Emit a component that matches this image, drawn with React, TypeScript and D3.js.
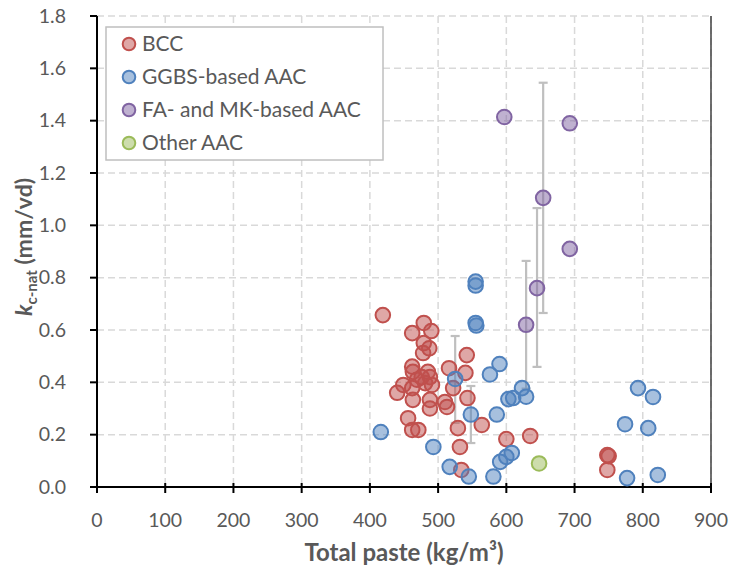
import React from "react";
import * as d3 from "d3";

const xTicks = [0, 100, 200, 300, 400, 500, 600, 700, 800, 900];
const yTicks = [0, 0.2, 0.4, 0.6, 0.8, 1.0, 1.2, 1.4, 1.6, 1.8];

const bccX = [419, 479, 462, 490, 479, 487, 478, 542, 462, 516, 540, 463, 485, 476, 488, 469, 481, 491, 449, 522, 462, 440, 463, 488, 510, 513, 543, 488, 456, 462, 471, 529, 564, 532, 600, 635, 534, 748, 750, 748];
const bccY = [0.657, 0.627, 0.588, 0.596, 0.55, 0.53, 0.512, 0.504, 0.46, 0.454, 0.436, 0.44, 0.44, 0.42, 0.42, 0.41, 0.397, 0.39, 0.39, 0.378, 0.378, 0.36, 0.333, 0.333, 0.325, 0.306, 0.34, 0.3, 0.263, 0.218, 0.218, 0.225, 0.237, 0.153, 0.183, 0.195, 0.065, 0.122, 0.118, 0.065];

const ggbsX = [416, 493, 517, 525, 545, 548, 555, 555, 555, 556, 576, 581, 586, 590, 591, 600, 603, 608, 610, 623, 629, 774, 777, 793, 808, 815, 822];
const ggbsY = [0.21, 0.153, 0.077, 0.413, 0.04, 0.277, 0.785, 0.77, 0.627, 0.617, 0.43, 0.04, 0.277, 0.47, 0.096, 0.115, 0.336, 0.13, 0.34, 0.378, 0.345, 0.24, 0.034, 0.378, 0.225, 0.344, 0.046];

const famkX = [597, 693, 654, 693, 645, 629];
const famkY = [1.414, 1.39, 1.105, 0.91, 0.76, 0.62];

const otherX = [648];
const otherY = [0.09];

// error bars: x, low, high
const errX = [525, 548, 654, 645, 629];
const errLow = [0.245, 0.168, 0.665, 0.459, 0.376];
const errHigh = [0.577, 0.386, 1.545, 1.066, 0.864];

const seriesNames = ["BCC", "GGBS-based AAC", "FA- and MK-based AAC", "Other AAC"];
const seriesColors = ["#c0504d", "#4f81bd", "#8064a2", "#9bbb59"];

const W = 732;
const H = 572;
const L = 97, R = 711, T = 16, B = 487;
const FONT = "Lato, 'Open Sans', sans-serif";
const TEXT = "#595959";

export default function App() {
  const x = d3.scaleLinear().domain([0, 900]).range([L, R]);
  const y = d3.scaleLinear().domain([0, 1.8]).range([B, T]);

  const series = [
    { xs: bccX, ys: bccY },
    { xs: ggbsX, ys: ggbsY },
    { xs: famkX, ys: famkY },
    { xs: otherX, ys: otherY },
  ];

  const r = 7.3;

  return (
    <svg width={W} height={H} style={{ position: "absolute", left: 0, top: 0, background: "#fff" }}>
      <rect x={0} y={0} width={W} height={H} fill="#fff" />
      {/* gridlines */}
      {xTicks.slice(1).map((t) => (
        <line key={"gx" + t} x1={x(t)} x2={x(t)} y1={T} y2={B} stroke="#d9d9d9" strokeWidth={1.5} strokeDasharray="7,4" />
      ))}
      {yTicks.slice(1).map((t) => (
        <line key={"gy" + t} x1={L} x2={R} y1={y(t)} y2={y(t)} stroke="#d9d9d9" strokeWidth={1.5} strokeDasharray="7,4" />
      ))}
      {/* plot border right */}
      <line x1={R} x2={R} y1={T} y2={B} stroke="#404040" strokeWidth={1.5} />
      {/* axes */}
      <line x1={L} x2={L} y1={T} y2={B + 1} stroke="#000" strokeWidth={2} />
      <line x1={L - 1} x2={R + 1} y1={B} y2={B} stroke="#000" strokeWidth={2} />
      {yTicks.map((t) => (
        <g key={"yt" + t}>
          <line x1={L - 7} x2={L} y1={y(t)} y2={y(t)} stroke="#000" strokeWidth={2} />
          <text x={66} y={y(t)} dy="0.35em" textAnchor="end" fontFamily={FONT} fontSize={19.5} fill={TEXT}>
            {t.toFixed(1)}
          </text>
        </g>
      ))}
      {xTicks.map((t) => (
        <g key={"xt" + t}>
          <line x1={x(t)} x2={x(t)} y1={B - 4} y2={B + 6} stroke="#000" strokeWidth={2} />
          <text x={x(t)} y={527} textAnchor="middle" fontFamily={FONT} fontSize={19.5} fill={TEXT}>
            {t}
          </text>
        </g>
      ))}
      {/* error bars */}
      {errX.map((ex, i) => (
        <g key={"eb" + i} stroke="#bfbfbf" strokeWidth={2.2}>
          <line x1={x(ex)} x2={x(ex)} y1={y(errLow[i])} y2={y(errHigh[i])} />
          <line x1={x(ex) - 4.5} x2={x(ex) + 4.5} y1={y(errLow[i])} y2={y(errLow[i])} />
          <line x1={x(ex) - 4.5} x2={x(ex) + 4.5} y1={y(errHigh[i])} y2={y(errHigh[i])} />
        </g>
      ))}
      {/* markers */}
      {series.map((s, si) =>
        s.xs.map((xv, i) => (
          <circle
            key={"m" + si + "-" + i}
            cx={x(xv)}
            cy={y(s.ys[i])}
            r={r}
            fill={seriesColors[si]}
            fillOpacity={0.5}
            stroke={seriesColors[si]}
            strokeWidth={2}
          />
        ))
      )}
      {/* legend */}
      <rect x={106} y={27} width={277} height={133} fill="#fff" stroke="#bfbfbf" strokeWidth={1.5} />
      {seriesNames.map((n, i) => (
        <g key={"lg" + i}>
          <circle cx={129} cy={44 + i * 33} r={6.3} fill={seriesColors[i]} fillOpacity={0.5} stroke={seriesColors[i]} strokeWidth={2} />
          <text x={142} y={44 + i * 33} dy="0.35em" fontFamily={FONT} fontSize={21} fill={TEXT}>
            {n}
          </text>
        </g>
      ))}
      {/* axis titles */}
      <text x={(L + R) / 2} y={561} textAnchor="middle" fontFamily={FONT} fontSize={24} fontWeight="bold" fill={TEXT}>
        Total paste (kg/m³)
      </text>
      <text transform={`translate(32,${247}) rotate(-90)`} textAnchor="middle" fontFamily={FONT} fontSize={23} fontWeight="bold" fill={TEXT}>
        <tspan fontStyle="italic">k</tspan>
        <tspan fontSize={15} dy={5}>c-nat</tspan>
        <tspan dy={-5}> (mm/vd)</tspan>
      </text>
    </svg>
  );
}
